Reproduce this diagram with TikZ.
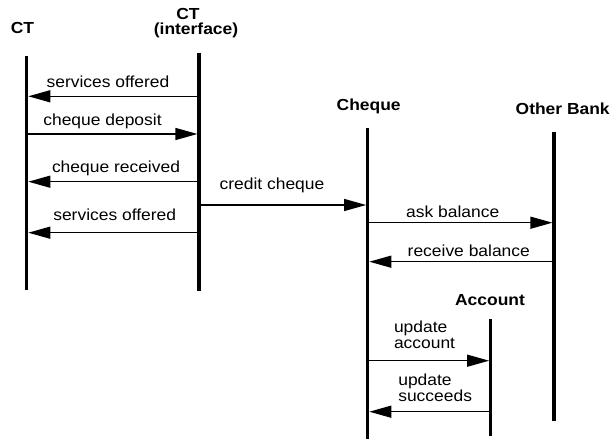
\documentclass[tikz,border=0pt]{standalone}
\usepackage{fontspec}
\setmainfont{Liberation Sans}[FakeStretch=1.09]
\usetikzlibrary{arrows.meta}

\begin{document}
\begin{tikzpicture}[x=1bp,y=-1bp,
  every node/.style={inner sep=0pt, outer sep=0pt, font=\fontsize{16bp}{16bp}\selectfont},
  actor/.style={font=\fontsize{16bp}{16bp}\selectfont\bfseries, anchor=base},
  msglabel/.style={anchor=base},
  notelabel/.style={anchor=base west, align=left},
  lifeline/.style={line width=3.3bp},
  msg/.style={line width=1.3bp, -{Triangle[length=22bp,width=12bp]}, shorten >=1.6bp}]

  % canvas
  \path[use as bounding box] (0,0) rectangle (613,439);

  % actor headings
  \node[actor] (hCT)   at (22.5,34)  {CT};
  \node[actor] (hCTi)  at (188,19.5) {CT};
  \node[actor] (hCTi2) at (196,35)   {(interface)};
  \node[actor] (hChq)  at (368.7,111) {Cheque};
  \node[actor] (hOB)   at (562.7,115) {Other Bank};
  \node[actor] (hAcc)  at (490,306)  {Account};

  % lifelines
  \coordinate (ctT)  at (26.7,56);   \coordinate (ctB)  at (26.7,290);
  \coordinate (ctiT) at (199,53);    \coordinate (ctiB) at (199,291);
  \coordinate (chT)  at (367.7,128.3); \coordinate (chB) at (367.7,439);
  \coordinate (obT)  at (554,131.7); \coordinate (obB)  at (554,420.7);
  \coordinate (acT)  at (490.7,319); \coordinate (acB)  at (490.7,435.7);
  \draw[lifeline] (ctT) -- (ctB);
  \draw[lifeline] (ctiT) -- (ctiB);
  \draw[lifeline] (chT) -- (chB);
  \draw[lifeline] (obT) -- (obB);
  \draw[lifeline] (acT) -- (acB);

  % message end points
  \coordinate (m1a) at (199,96.3);    \coordinate (m1b) at (26.7,96.3);
  \coordinate (m2a) at (26.7,134);    \coordinate (m2b) at (199,134);
  \coordinate (m3a) at (199,181.7);   \coordinate (m3b) at (26.7,181.7);
  \coordinate (m4a) at (199,232.7);   \coordinate (m4b) at (26.7,232.7);
  \coordinate (m5a) at (199,205);     \coordinate (m5b) at (367.7,205);
  \coordinate (m6a) at (367.7,222.7); \coordinate (m6b) at (554,222.7);
  \coordinate (m7a) at (554,261.7);   \coordinate (m7b) at (367.7,261.7);
  \coordinate (m8a) at (367.7,360.7); \coordinate (m8b) at (490.7,360.7);
  \coordinate (m9a) at (490.7,411.7); \coordinate (m9b) at (367.7,411.7);

  % messages
  \draw[msg] (m1a) -- (m1b);
  \draw[msg] (m2a) -- (m2b);
  \draw[msg] (m3a) -- (m3b);
  \draw[msg] (m4a) -- (m4b);
  \draw[msg] (m5a) -- (m5b);
  \draw[msg] (m6a) -- (m6b);
  \draw[msg] (m7a) -- (m7b);
  \draw[msg] (m8a) -- (m8b);
  \draw[msg] (m9a) -- (m9b);

  % message labels
  \node[msglabel] (l1) at (108,88)    {services offered};
  \node[msglabel] (l2) at (102.5,126) {cheque deposit};
  \node[msglabel] (l3) at (116,172.3) {cheque received};
  \node[msglabel] (l4) at (114.7,220.5) {services offered};
  \node[msglabel] (l5) at (272,190)   {credit cheque};
  \node[msglabel] (l6) at (452.7,217.3) {ask balance};
  \node[msglabel] (l7) at (468.8,256.7) {receive balance};
  \node[notelabel] (l8) at (394,348) {update\\account};
  \node[notelabel] (l9) at (398.3,401.5) {update\\succeeds};
\end{tikzpicture}
\end{document}
